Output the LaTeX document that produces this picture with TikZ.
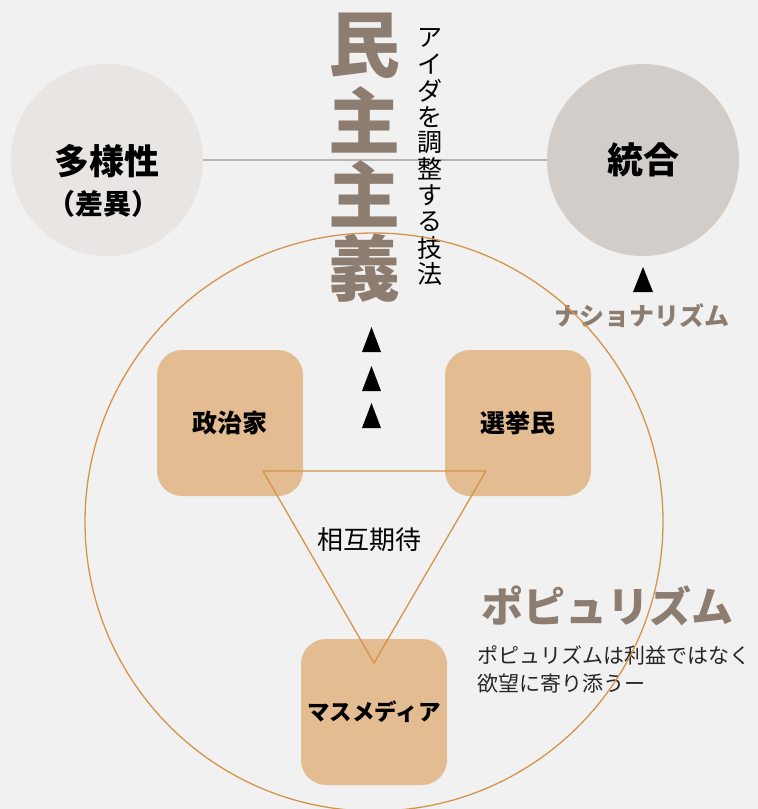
\documentclass[tikz,border=0pt]{standalone}
\usepackage{fontspec}
\setmainfont{Noto Sans CJK JP}
\usetikzlibrary{positioning}
\definecolor{bggray}{HTML}{F1F1F1}
\definecolor{diffgray}{HTML}{E8E5E2}
\definecolor{unigray}{HTML}{D3CDC9}
\definecolor{boxtan}{HTML}{E3BC91}
\definecolor{lineorange}{HTML}{D4944A}
\definecolor{titlegray}{HTML}{8D7D71}
\definecolor{linkgray}{HTML}{B4B4B4}
\newcommand{\fs}[1]{\fontsize{#1}{#1}\selectfont}
\tikzset{
  bigdisc/.style={circle,minimum size=192pt,inner sep=0pt,align=center},
  actor/.style={fill=boxtan,rounded corners=25pt,minimum size=146pt,inner sep=0pt,font=\fs{25}\bfseries},
  upmark/.style={fill=black},
}
\begin{document}
\begin{tikzpicture}[x=1pt,y=-1pt]
    \fill[bggray] (0,0) rectangle (758,809);
    \useasboundingbox (0,0) rectangle (758,809);
    \clip (0,0) rectangle (758,809);
    % the two poles
    \node[bigdisc,fill=diffgray] (div) at (107,160) {};
    \node[bigdisc,fill=unigray] (uni) at (643,160) {};
    \draw[linkgray,line width=1.3pt] (div) -- (uni);
    \node[font=\fs{35}\bfseries] (divtxt) at (107,161) {多様性};
    \node[font=\fs{28}\bfseries] (difftxt) at (103,204) {（差異）};
    \node[font=\fs{36}\bfseries] (unitxt) at (643,160) {統合};
    % vertical title
    \foreach \c [count=\i] in {民,主,主,義}
        \node[font=\fs{72}\bfseries,text=titlegray] (dm\i) at (364,-28+74*\i) {\c};
    \foreach \c [count=\i] in {ア,イ,ダ,を,調,整,す,る,技,法}
        \node[font=\fs{25}] (tech\i) at (430,12+26.2*\i) {\c};
    % marks
    \foreach \y in {327,366,403}
        \fill[upmark] (362,\y+25) -- (371.5,\y) -- (381,\y+25) -- cycle;
    \fill[upmark] (633,292) -- (643,267) -- (653,292) -- cycle;
    \node[font=\fs{25}\bfseries,text=titlegray] (nat) at (642,316) {ナショナリズム};
    \node[font=\fs{42}\bfseries,text=titlegray] (pop) at (607,606) {ポピュリズム};
    \node[font=\fontsize{21}{28}\selectfont,anchor=west,align=left,text=black!85] (popnote) at (474,669)
        {ポピュリズムは利益ではなく\\欲望に寄り添うー};
    % the ring
    \draw[lineorange,line width=1.3pt] (374,522) circle (289);
    % actors
    \node[actor] (pol) at (230,423) {政治家};
    \node[actor] (vot) at (518,423) {選挙民};
    \node[actor,font=\fs{22.5}\bfseries] (med) at (374,712) {マスメディア};
    \coordinate (tp) at (263,471);
    \coordinate (tv) at (486,471);
    \coordinate (tm) at (374,663);
    \draw[lineorange,line width=1.3pt] (tp) -- (tv) -- (tm) -- cycle;
    \node[font=\fs{26}] (mutual) at (369,540) {相互期待};
\end{tikzpicture}
\end{document}
